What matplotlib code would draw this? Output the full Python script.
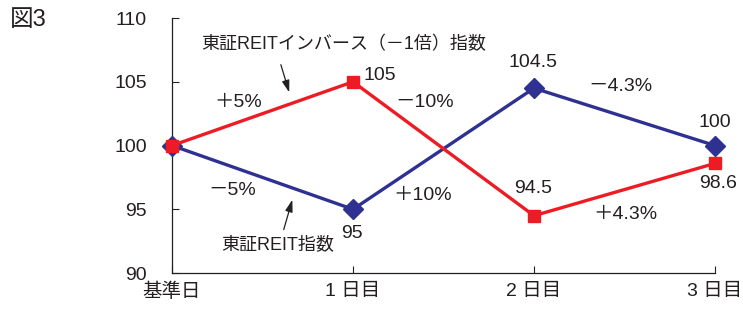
import matplotlib
matplotlib.use("Agg")
import matplotlib.pyplot as plt

plt.rcParams['font.family'] = ['Liberation Sans', 'Noto Sans CJK JP', 'DejaVu Sans']

days = ["基準日", "1 日目", "2 日目", "3 日目"]
reit = [100, 95, 104.5, 100]
inverse = [100, 105, 94.5, 98.6]
yticks = [90, 95, 100, 105, 110]

TEXT = "#231f20"
BLUE = "#2e3192"
RED = "#ed1c24"


def main():
  fig = plt.figure(figsize=(7.43, 3.11), dpi=100)
  ax = fig.add_axes([0.2315, 0.122, 0.7308, 0.820])

  x = range(len(days))
  ax.plot(x, reit, color=BLUE, lw=2.4, marker="D", ms=10, clip_on=False, zorder=3)
  ax.plot(x, inverse, color=RED, lw=2.4, marker="s", ms=9, clip_on=False, zorder=3)

  ax.set_xlim(0, 3)
  ax.set_ylim(90, 110)
  ax.set_xticks(list(x))
  ax.set_xticklabels(days)
  ax.set_yticks(yticks)
  ax.tick_params(direction="in", length=5, width=0.8, colors=TEXT, labelsize=14, pad=7)
  ax.tick_params(axis="y", pad=18)
  for s in ["top", "right"]:
    ax.spines[s].set_visible(False)
  for s in ["left", "bottom"]:
    ax.spines[s].set_linewidth(0.9)
    ax.spines[s].set_color(TEXT)

  fs = 14
  kw = dict(fontsize=fs, color=TEXT, ha="center", va="center")
  ax.text(1.149, 105.5, "105", **kw)
  ax.text(0.365, 103.4, "＋5%", **kw)
  ax.text(1.398, 103.4, "－10%", **kw)
  ax.text(1.994, 106.55, "104.5", **kw)
  ax.text(2.475, 104.67, "－4.3%", **kw)
  ax.text(3.0, 101.84, "100", **kw)
  ax.text(3.017, 97.06, "98.6", **kw)
  ax.text(1.994, 96.6, "94.5", **kw)
  ax.text(2.503, 94.6, "＋4.3%", **kw)
  ax.text(1.387, 96.1, "＋10%", **kw)
  ax.text(0.331, 96.5, "－5%", **kw)
  ax.text(0.994, 93.14, "95", **kw)

  arrow = dict(arrowstyle="-|>,head_length=0.8,head_width=0.25", color=TEXT, lw=0.9, mutation_scale=9)
  ax.text(0.95, 107.9, "東証REITインバース（－1倍）指数", fontsize=13, color=TEXT,
          ha="center", va="center")
  ax.annotate("", xy=(0.652, 103.96), xytext=(0.597, 106.55), arrowprops=arrow)
  ax.text(0.586, 92.2, "東証REIT指数", fontsize=13, color=TEXT, ha="center", va="center")
  ax.annotate("", xy=(0.669, 95.96), xytext=(0.613, 93.2), arrowprops=arrow)

  fig.text(0.013, 0.935, "図3", fontsize=17, color=TEXT, ha="left", va="center")

  fig.savefig("out.png", dpi=100)


if __name__ == "__main__":
  main()
